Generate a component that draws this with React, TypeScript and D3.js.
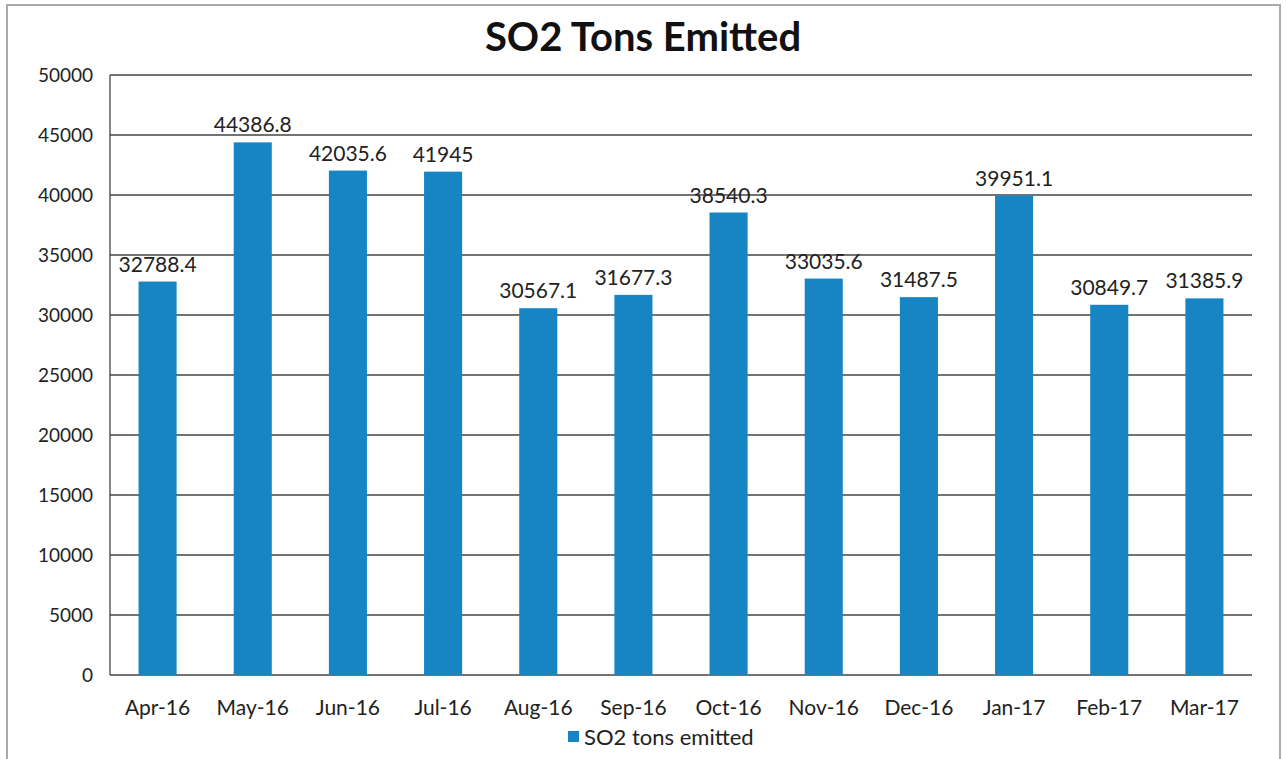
import * as React from "react";
import * as d3 from "d3";

const months = ["Apr-16", "May-16", "Jun-16", "Jul-16", "Aug-16", "Sep-16", "Oct-16", "Nov-16", "Dec-16", "Jan-17", "Feb-17", "Mar-17"];
const so2Tons = [32788.4, 44386.8, 42035.6, 41945, 30567.1, 31677.3, 38540.3, 33035.6, 31487.5, 39951.1, 30849.7, 31385.9];
const yTicks = [0, 5000, 10000, 15000, 20000, 25000, 30000, 35000, 40000, 45000, 50000];
const seriesName = "SO2 tons emitted";

export default () => {
  const width = 1286;
  const height = 759;
  const left = 110;
  const right = 1252;
  const top = 75;
  const bottom = 675;
  const font = "Lato, 'Open Sans', sans-serif";
  const barColor = "#1784c4";

  const x = d3.scaleBand().domain(months).range([left, right]).paddingInner(0.6).paddingOuter(0.3);
  const y = d3.scaleLinear().domain([0, 50000]).range([bottom, top]);

  return (
    <svg width={width} height={height} style={{ position: "absolute", left: 0, top: 0 }}>
      <rect x={0} y={0} width={width} height={height} fill="#fff" />
      <rect x={7} y={5} width={1273} height={760} fill="none" stroke="#aaa" strokeWidth={2} />
      <text x={643} y={51} textAnchor="middle" fontFamily={font} fontWeight="bold" fontSize={40} fill="#111">
        SO2 Tons Emitted
      </text>
      {yTicks.map((t) => (
        <g key={t}>
          <line x1={left} x2={right} y1={y(t)} y2={y(t)} stroke="#444" strokeWidth={1.3} />
          <text x={93} y={y(t) + 7} textAnchor="end" fontFamily={font} fontSize={19} fill="#222">
            {t}
          </text>
        </g>
      ))}
      <line x1={left} x2={left} y1={top} y2={bottom} stroke="#444" strokeWidth={1.3} />
      {months.map((m, i) => (
        <g key={m}>
          <rect x={x(m)} y={y(so2Tons[i])} width={x.bandwidth()} height={bottom - y(so2Tons[i])} fill={barColor} />
          <text x={x(m)! + x.bandwidth() / 2} y={y(so2Tons[i]) - 10} textAnchor="middle" fontFamily={font} fontSize={21} fill="#222">
            {so2Tons[i]}
          </text>
          <text x={x(m)! + x.bandwidth() / 2} y={715} textAnchor="middle" fontFamily={font} fontSize={21} fill="#222">
            {m}
          </text>
        </g>
      ))}
      <rect x={568} y={731} width={11} height={11} fill={barColor} />
      <text x={584} y={745} fontFamily={font} fontSize={22} fill="#222">
        {seriesName}
      </text>
    </svg>
  );
};
